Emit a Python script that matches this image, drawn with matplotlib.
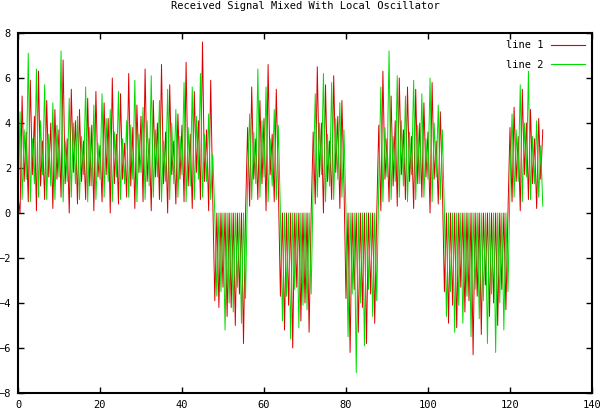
import matplotlib
matplotlib.use("Agg")
import matplotlib.pyplot as plt
import numpy as np

# line 1: peaks at integer x (0..128), troughs at x + 0.5 (0.5..127.5)
line1_peaks = [
    0.7, 5.2, 3.6, 5.9, 4.3, 6.3, 3.2, 5.0,
    4.0, 4.6, 3.7, 6.8, 3.3, 5.5, 4.1, 4.6,
    3.2, 5.1, 3.9, 5.4, 3.0, 4.9, 4.2, 6.0,
    3.5, 5.3, 3.1, 6.2, 3.8, 4.8, 4.3, 6.4,
    3.3, 5.0, 4.0, 6.6, 3.6, 5.7, 3.2, 4.4,
    3.9, 6.7, 3.5, 5.4, 4.1, 7.6, 3.7, 5.9,
    -3.9, -4.2, -3.3, -4.6, -4.2, -5.0, -3.6, -5.8,
    3.8, 5.6, 3.3, 5.0, 4.2, 6.6, 3.5, 5.5,
    -3.7, -5.2, -4.1, -6.0, -3.3, -4.8, -4.0, -5.3,
    3.6, 6.5, 4.0, 5.7, 3.2, 6.1, 4.3, 5.0,
    -3.8, -6.2, -3.4, -5.3, -4.2, -5.8, -3.6, -4.9,
    3.9, 6.3, 3.3, 5.2, 4.1, 6.0, 3.7, 5.6,
    3.4, 5.5, 4.0, 4.9, 3.6, 5.8, 3.2, 4.5,
    -3.5, -4.9, -4.1, -5.1, -3.3, -4.4, -3.9, -6.3,
    -3.7, -5.4, -3.2, -4.6, -4.0, -5.0, -3.4, -4.3,
    3.8, 4.7, 3.4, 5.5, 4.0, 4.6, 3.3, 4.2,
    3.7,
]
line1_troughs = [
    0.0, 1.4, 0.5, 1.7, 0.1, 1.2, 0.6, 1.6,
    0.2, 1.5, 0.7, 1.3, 0.0, 1.8, 0.4, 1.4,
    0.6, 1.2, 0.1, 1.6, 0.5, 1.7, 0.0, 1.3,
    0.4, 1.5, 0.7, 1.2, 0.2, 1.8, 0.5, 1.4,
    0.1, 1.6, 0.6, 1.3, 0.0, 1.7, 0.4, 1.5,
    0.5, 1.2, 0.2, 1.8, 0.6, 1.4, 0.1, 0.6,
    0.0, 0.0, 0.0, 0.0, 0.0, 0.0, 0.0, 0.0,
    0.3, 1.5, 0.6, 1.3, 0.1, 1.7, 0.5, 1.2,
    0.0, 0.0, 0.0, 0.0, 0.0, 0.0, 0.0, 0.0,
    0.4, 1.6, 0.0, 1.4, 0.6, 1.8, 0.2, 1.3,
    0.0, 0.0, 0.0, 0.0, 0.0, 0.0, 0.0, 0.0,
    0.1, 1.5, 0.5, 1.2, 0.3, 1.7, 0.6, 1.4,
    0.2, 1.3, 0.7, 1.6, 0.0, 1.5, 0.4, 1.2,
    0.0, 0.0, 0.0, 0.0, 0.0, 0.0, 0.0, 0.0,
    0.0, 0.0, 0.0, 0.0, 0.0, 0.0, 0.0, 0.0,
    0.5, 1.4, 0.1, 1.7, 0.6, 1.3, 0.2, 1.5,
]

# line 2: troughs at integer x (0..128), peaks at x + 0.5 (0.5..127.5)
line2_troughs = [
    0.0, 0.6, 1.5, 0.5, 1.3, 0.7, 1.7, 0.6,
    1.2, 0.6, 1.6, 0.5, 1.4, 0.7, 1.3, 0.6,
    1.7, 0.5, 1.2, 0.6, 1.5, 0.7, 1.4, 0.5,
    1.6, 0.6, 1.3, 0.7, 1.5, 0.5, 1.8, 0.6,
    1.2, 0.7, 1.6, 0.5, 1.4, 0.6, 1.3, 0.7,
    1.7, 0.5, 1.2, 0.6, 1.5, 0.7, 1.4, 0.6,
    0.0, 0.0, 0.0, 0.0, 0.0, 0.0, 0.0, 0.0,
    1.5, 0.6, 1.3, 0.7, 1.6, 0.5, 1.2, 0.6,
    0.0, 0.0, 0.0, 0.0, 0.0, 0.0, 0.0, 0.0,
    1.4, 0.7, 1.7, 0.5, 1.2, 0.6, 1.5, 0.7,
    0.0, 0.0, 0.0, 0.0, 0.0, 0.0, 0.0, 0.0,
    1.3, 0.5, 1.6, 0.6, 1.4, 0.7, 1.2, 0.5,
    1.7, 0.6, 1.3, 0.7, 1.5, 0.5, 1.6, 0.6,
    0.0, 0.0, 0.0, 0.0, 0.0, 0.0, 0.0, 0.0,
    0.0, 0.0, 0.0, 0.0, 0.0, 0.0, 0.0, 0.0,
    1.2, 0.7, 1.4, 0.5, 1.6, 0.6, 1.3, 0.7,
    0.3,
]
line2_peaks = [
    4.5, 3.7, 7.1, 3.3, 6.4, 4.1, 5.7, 3.5,
    4.9, 3.9, 7.2, 3.2, 5.1, 4.0, 4.3, 3.4,
    5.6, 3.8, 4.8, 3.1, 5.3, 4.2, 4.6, 3.6,
    5.4, 3.3, 4.1, 3.9, 5.9, 3.5, 4.7, 4.1,
    6.1, 3.7, 5.0, 3.2, 5.5, 4.0, 4.6, 3.4,
    5.8, 3.8, 5.6, 4.3, 6.2, 3.5, 4.4, 2.6,
    -3.7, -3.5, -5.2, -4.0, -4.4, -3.3, -4.9, -3.8,
    4.4, 3.6, 6.4, 4.1, 5.6, 3.3, 4.6, 3.9,
    -4.8, -3.7, -5.6, -3.4, -5.1, -4.1, -4.3, -3.6,
    5.3, 4.0, 6.2, 3.5, 5.8, 4.2, 4.9, 3.7,
    -5.5, -3.6, -7.1, -4.0, -5.9, -3.4, -4.6, -3.9,
    5.6, 3.8, 7.2, 3.4, 6.1, 4.1, 5.2, 3.6,
    5.9, 3.9, 5.3, 3.3, 6.0, 4.0, 4.8, 3.7,
    -4.6, -3.5, -5.3, -4.1, -4.9, -3.7, -5.5, -3.4,
    -4.7, -3.9, -5.8, -3.6, -6.2, -4.0, -5.2, -3.5,
    4.4, 3.7, 5.7, 4.0, 6.3, 3.4, 4.1, 3.0,
]

xticks = [0, 20, 40, 60, 80, 100, 120, 140]
yticks = [-8, -6, -4, -2, 0, 2, 4, 6, 8]

# interleave the integer / half-integer samples into one series per line
x = np.arange(0, 128.5, 0.5)
y1 = np.empty(len(x))
y1[0::2] = line1_peaks
y1[1::2] = line1_troughs
y2 = np.empty(len(x))
y2[0::2] = line2_troughs
y2[1::2] = line2_peaks

mono = "DejaVu Sans Mono"
fig = plt.figure(figsize=(6.05, 4.16), dpi=100)
ax = fig.add_axes([18 / 605, 1 - 393 / 416, 574 / 605, 360 / 416])

ax.plot(x, y1, color="#dd0000", lw=0.7, label="line 1")
ax.plot(x, y2, color="#00dd00", lw=0.7, label="line 2")

ax.set_xlim(0, 140)
ax.set_ylim(-8, 8)
ax.set_xticks(xticks)
ax.set_yticks(yticks)
ax.tick_params(direction="in", length=4, width=1, top=True, right=True,
               labelsize=7.5, pad=5)
for lab in ax.get_xticklabels() + ax.get_yticklabels():
    lab.set_family(mono)
for s in ax.spines.values():
    s.set_linewidth(1.5)

ax.set_title("Received Signal Mixed With Local Oscillator", family=mono,
             fontsize=7.5, pad=17)
leg = ax.legend(loc="upper right", frameon=False, markerfirst=False,
                prop={"family": mono, "size": 7.5}, handlelength=3.2,
                borderaxespad=0.3, labelspacing=0.9)
for h in leg.get_lines():
    h.set_linewidth(0.8)

fig.savefig("out.png", dpi=100)
